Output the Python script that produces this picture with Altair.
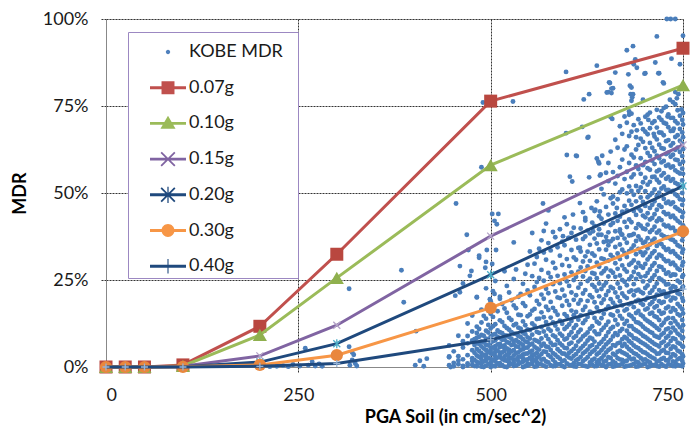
import altair as alt
import pandas as pd

# ---------------- data ----------------
pga_levels = [0, 25, 50, 100, 200, 300, 500, 750]
mdr_007 = [0, 0, 0, 0.6, 11.7, 32.4, 76.4, 91.6]
mdr_010 = [0, 0, 0, 0.3, 9.2, 25.6, 58.0, 81.0]
mdr_015 = [0, 0, 0, 0.2, 3.2, 12.0, 37.6, 63.8]
mdr_020 = [0, 0, 0, 0.1, 1.4, 6.7, 26.5, 52.0]
mdr_030 = [0, 0, 0, 0.05, 0.6, 3.4, 17.0, 39.0]
mdr_040 = [0, 0, 0, 0.0, 0.2, 1.0, 7.8, 22.4]

series_names = ["KOBE MDR", "0.07g", "0.10g", "0.15g", "0.20g", "0.30g", "0.40g"]

# sparse KOBE observations (PGA, MDR %)
kobe_sparse_x = [213, 222, 230, 237, 243, 252, 263, 268, 272, 277, 281, 259, 316, 316, 317, 320, 322, 324, 326, 320,
                 387, 403, 402, 408, 413, 417, 446, 448, 460, 464, 475, 473, 485, 460, 454, 482, 499, 505, 512, 493, 502,
                 384, 598, 529, 490, 488, 455, 638, 628, 621, 598, 619, 626, 599, 612, 638, 645, 640, 603, 628, 642,
                 656, 662, 677, 685, 686, 679, 701, 718, 716, 750, 729, 734, 740, 714, 735, 746, 654, 653, 657, 683,
                 685, 683, 698, 724, 740, 746, 502, 510, 505, 508, 469, 568, 575, 471, 495, 507, 485, 627, 611, 641,
                 606, 643, 616, 631, 636, 642, 607, 623, 664, 659, 594, 601, 616, 633, 640, 651, 668, 670, 655, 659,
                 651, 657, 688, 690, 700, 719, 725, 681, 682, 684, 733, 737, 742, 744, 658, 680, 690, 705, 712, 722,
                 730, 738, 748]
kobe_sparse_y = [0.1, 0.2, 0.4, 0.1, 0.7, 0.3, 0.5, 1.5, 0.3, 0.9, 0.2, 5.4, 5.8, 22.5, 0.5, 2.0, 3.5, 1.0, 0.3, 4.2,
                 18.6, 10.3, 0.5, 1.8, 0.2, 2.4, 3.0, 0.0, 21.5, 24.0, 27.6, 26.2, 31.4, 29.0, 20.5, 20.0, 19.5, 21.0, 20.2, 28.5, 29.6,
                 27.8, 84.8, 76.3, 76.0, 57.4, 47.0, 86.6, 78.4, 76.9, 67.2, 69.0, 65.9, 60.9, 60.6, 59.9, 60.7, 59.0, 54.7, 54.5, 55.0,
                 71.8, 84.6, 91.0, 92.2, 87.0, 84.1, 84.4, 84.4, 95.0, 95.2, 100, 100, 100, 87.5, 88.6, 87.0, 81.8, 79.0, 80.0, 80.3,
                 78.4, 76.5, 76.8, 81.8, 79.0, 79.9, 44.0, 44.0, 42.0, 41.0, 38.0, 47.0, 45.0, 33.6, 33.6, 33.6, 32.0, 66.1, 60.7, 58.5,
                 53.3, 55.3, 47.1, 45.7, 45.2, 44.7, 43.8, 42.8, 45.7, 49.0, 37.6, 37.1, 34.3, 39.0, 38.0, 36.2, 39.5, 38.1, 81.6, 80.1,
                 78.9, 78.7, 88.4, 86.0, 84.3, 84.4, 81.5, 80.8, 78.4, 77.5, 76.8, 76.1, 77.2, 78.4, 71.3, 72.5, 68.0, 71.0, 67.0, 73.5,
                 72.0, 68.5, 74.0]

# dense KOBE observations, grouped by PGA column: (PGA, [MDR %])
kobe_cols = [
    (446, [0.5, 2.8, 6.2]),
    (452, [1.2, 0.2, 4.5]),
    (458, [0.8, 3.1, 9.0, 1.9]),
    (464, [0.3, 2.2, 5.6, 7.4, 0.0]),
    (470, [1.0, 3.4, 0.4, 6.8, 8.9, 12.5]),
    (476, [0.6, 2.5, 4.8, 1.7, 7.6, 10.2, 14.8]),
    (482, [0.2, 1.5, 3.3, 5.2, 6.9, 8.4, 9.8, 11.6, 20.1]),
    (488, [0.9, 2.1, 4.0, 5.9, 7.3, 0.1, 3.0, 9.2, 12.8, 16.5]),
    (494, [0.4, 1.8, 3.6, 4.9, 6.4, 8.1, 2.7, 10.4, 13.9, 22.6, 30.2]),
    (500, [0.7, 1.3, 2.4, 3.9, 5.5, 7.0, 8.8, 0.0, 4.6, 11.1, 15.3, 18.9]),
    (506, [0.2, 1.6, 3.1, 4.3, 6.0, 7.7, 9.5, 2.2, 5.2, 12.3, 24.7]),
    (512, [0.5, 1.1, 2.8, 4.1, 5.7, 6.6, 8.3, 3.5, 10.0, 13.4, 19.6]),
    (518, [0.1, 1.9, 3.0, 4.6, 6.2, 7.9, 9.1, 2.4, 5.4, 11.8, 16.8, 27.5]),
    (524, [0.6, 1.4, 2.6, 3.8, 5.0, 6.9, 8.6, 10.7, 4.4, 14.1, 21.4]),
    (530, [0.3, 2.0, 3.3, 4.8, 6.5, 7.4, 9.6, 1.2, 12.0, 17.7, 25.3, 35.8]),
    (536, [0.8, 1.7, 2.9, 4.2, 5.8, 7.2, 8.9, 11.3, 15.0, 20.2]),
    (542, [0.0, 1.5, 3.6, 5.1, 6.3, 8.0, 9.9, 2.5, 13.1, 18.3, 23.9]),
    (548, [0.4, 2.2, 3.9, 5.6, 7.1, 8.5, 10.8, 1.0, 14.6, 22.0, 29.4]),
    (554, [0.9, 1.8, 3.4, 4.7, 6.7, 9.3, 12.5, 2.7, 16.2, 26.1, 38.5]),
    (560, [0.2, 2.6, 4.0, 5.3, 7.5, 10.1, 1.4, 13.8, 19.0, 24.4, 31.6]),
    (566, [0.7, 2.1, 3.7, 6.1, 8.2, 11.5, 15.7, 20.8, 27.9, 36.4]),
    (572, [0.1, 1.6, 4.3, 5.9, 9.0, 12.9, 17.3, 22.5, 30.8, 41.2]),
    (578, [0.5, 2.9, 4.9, 7.0, 10.4, 14.2, 18.7, 25.8, 33.5]),
    (584, [0.3, 1.3, 3.5, 6.4, 8.7, 11.9, 16.0, 21.7, 28.4, 37.3]),
    (590, [0.8, 2.4, 4.5, 6.8, 9.6, 13.3, 19.8, 24.1, 32.0, 39.6]),
    (596, [0.0, 1.9, 3.8, 5.5, 7.9, 10.9, 15.2, 20.5, 26.6, 35.0, 43.0]),
    (602, [0.6, 2.7, 4.1, 6.6, 9.2, 12.2, 17.8, 23.3, 29.0, 37.1]),
    (608, [0.2, 1.1, 3.2, 5.2, 8.4, 11.2, 14.9, 19.3, 25.0, 31.5, 40.0]),
    (614, [0.9, 2.3, 4.6, 7.3, 10.0, 13.6, 18.2, 22.8, 27.4, 34.2]),
    (620, [0.4, 1.7, 3.9, 6.0, 8.8, 12.6, 16.4, 21.1, 26.0, 30.3, 36.8, 44.5]),
    (626, [0.1, 2.8, 5.0, 7.6, 9.9, 14.4, 19.0, 24.7, 28.9, 33.1, 39.2]),
    (632, [0.7, 2.0, 4.4, 6.3, 8.1, 11.7, 15.5, 20.0, 23.6, 27.0, 32.6, 41.5]),
    (638, [0.3, 1.4, 3.6, 5.7, 9.4, 13.0, 17.1, 21.9, 25.5, 30.0, 35.5, 47.6]),
    (644, [0.5, 2.5, 4.8, 7.2, 10.6, 14.0, 18.4, 22.4, 26.9, 31.2, 38.0, 42.6, 51.2]),
    (650, [0.0, 1.8, 4.2, 6.5, 8.9, 12.1, 16.6, 20.7, 24.2, 28.3, 33.7, 37.4, 46.0, 55.8]),
    (656, [0.8, 2.6, 5.3, 7.8, 11.0, 15.1, 19.5, 23.0, 27.7, 32.2, 36.1, 40.8, 48.5, 61.9]),
    (662, [0.3, 1.2, 3.4, 6.1, 9.7, 13.5, 17.6, 21.4, 25.9, 29.8, 34.5, 39.0, 44.1, 52.7, 65.3]),
    (668, [0.6, 2.2, 4.7, 7.0, 10.3, 14.7, 18.9, 22.7, 26.3, 31.0, 35.2, 38.9, 43.2, 50.2, 57.4, 69.2]),
    (674, [0.1, 1.6, 3.9, 6.6, 8.6, 12.4, 16.2, 20.3, 24.5, 28.1, 32.8, 36.9, 41.7, 46.3, 54.0, 62.5, 72.0]),
    (680, [0.4, 2.9, 5.1, 7.4, 9.5, 11.8, 15.0, 18.0, 21.6, 25.2, 29.4, 33.3, 37.8, 42.4, 47.8, 51.9, 58.6, 66.4, 73.4]),
    (686, [0.9, 2.4, 4.0, 6.2, 8.3, 10.9, 13.8, 17.2, 20.6, 23.8, 27.3, 30.6, 34.9, 38.2, 44.8, 49.5, 55.3, 60.2, 69.5]),
    (692, [0.2, 1.3, 3.2, 5.4, 7.7, 10.1, 12.7, 16.1, 19.3, 22.2, 26.7, 29.9, 33.9, 37.5, 41.0, 45.6, 50.6, 56.9, 63.8, 71.2]),
    (698, [0.7, 2.1, 4.3, 6.8, 9.0, 11.6, 14.5, 17.9, 21.2, 24.6, 28.5, 32.1, 35.6, 39.8, 43.5, 47.4, 53.1, 58.0, 64.7, 68.3]),
    (704, [0.0, 1.7, 3.6, 5.9, 8.1, 10.6, 13.2, 16.8, 19.9, 23.4, 27.0, 30.9, 34.1, 37.0, 40.9, 44.2, 48.8, 52.4, 57.1, 61.5, 66.9, 72.5]),
    (710, [0.5, 2.7, 4.9, 7.1, 9.8, 12.3, 15.6, 18.6, 22.0, 25.6, 29.1, 32.7, 36.3, 39.4, 42.8, 46.6, 50.0, 54.6, 59.3, 63.0, 70.1]),
    (716, [0.3, 1.5, 3.8, 6.3, 8.7, 11.2, 14.3, 17.5, 20.8, 24.0, 27.6, 31.4, 34.8, 38.6, 41.9, 45.2, 49.1, 53.8, 56.2, 60.7, 65.4, 68.8, 73.9]),
    (722, [0.8, 2.3, 4.6, 6.9, 9.3, 12.0, 15.3, 18.4, 21.5, 25.1, 28.7, 31.9, 35.3, 38.0, 42.2, 46.0, 51.3, 55.0, 58.8, 62.9, 67.3, 71.0]),
    (728, [0.1, 1.9, 4.1, 6.0, 8.4, 10.8, 13.7, 16.9, 20.2, 23.7, 26.8, 30.4, 33.6, 37.2, 40.4, 43.9, 47.1, 50.9, 54.1, 57.8, 61.2, 64.9, 69.9, 74.8]),
    (734, [0.6, 2.8, 5.2, 7.5, 9.9, 12.6, 15.9, 19.1, 22.5, 26.2, 29.6, 33.0, 36.7, 39.9, 43.1, 46.8, 50.4, 53.5, 57.3, 60.4, 63.6, 67.8, 71.6]),
    (740, [0.2, 1.4, 3.3, 5.6, 8.0, 10.5, 13.1, 16.3, 19.7, 22.9, 26.5, 29.2, 32.5, 35.9, 39.1, 42.7, 45.9, 49.6, 52.9, 56.5, 59.6, 62.4, 66.1, 70.6, 75.5]),
    (746, [0.4, 2.5, 4.4, 6.7, 9.1, 11.4, 14.8, 17.4, 20.9, 24.3, 27.9, 31.3, 34.6, 38.3, 41.5, 44.9, 48.2, 51.7, 55.6, 58.3, 61.8, 65.0, 68.4, 72.2]),
    (750, [1.0, 3.0, 5.8, 8.5, 12.0, 15.4, 19.0, 23.1, 26.4, 30.1, 33.8, 37.6, 40.7, 44.4, 48.0, 52.0, 55.5, 59.0, 62.6, 66.0, 69.7, 73.0]),
]

kobe_cols2 = [
    (479, [0.3, 2.0, 4.1, 6.3, 8.0]),
    (485, [1.1, 2.9, 4.6, 6.6, 8.7, 10.9]),
    (491, [0.0, 1.6, 3.4, 5.3, 7.1, 9.0, 14.7]),
    (497, [0.8, 2.6, 4.4, 6.2, 7.9, 9.9, 12.1, 17.2]),
    (503, [0.3, 2.0, 3.7, 5.6, 7.4, 9.3, 11.7, 14.4, 21.8]),
    (509, [1.0, 2.7, 4.7, 6.5, 8.6, 10.5, 16.0]),
    (515, [0.5, 2.3, 4.2, 6.0, 7.8, 9.7, 12.9, 18.1]),
    (521, [0.0, 1.8, 3.5, 5.3, 7.2, 9.0, 11.2, 15.6, 23.3]),
    (527, [0.9, 2.5, 4.5, 6.3, 8.1, 10.0, 13.5, 19.2]),
    (533, [0.4, 2.2, 4.0, 5.9, 7.7, 9.5, 12.4, 16.9, 28.0]),
    (539, [1.2, 3.0, 4.9, 6.8, 8.6, 11.0, 14.9, 21.0]),
    (545, [0.2, 2.0, 3.8, 5.5, 7.3, 9.4, 12.0, 17.5, 26.8]),
    (551, [0.7, 2.6, 4.4, 6.4, 8.2, 10.6, 15.1, 20.6, 33.2]),
    (557, [0.1, 1.9, 3.6, 5.8, 7.8, 11.9, 16.7, 23.0, 29.7]),
    (563, [0.9, 3.0, 5.0, 7.1, 9.8, 13.9, 18.0, 25.6, 34.0]),
    (569, [0.4, 2.3, 4.5, 6.7, 10.2, 14.3, 19.6, 24.8, 32.9, 39.1]),
    (575, [1.3, 3.4, 5.7, 8.0, 11.0, 16.4, 21.2, 27.0, 35.6]),
    (581, [0.2, 2.1, 4.0, 6.3, 9.1, 12.8, 17.0, 23.8, 30.0, 38.8]),
    (587, [0.7, 2.9, 5.1, 7.7, 10.8, 15.0, 20.0, 26.2, 34.4]),
    (593, [0.3, 1.7, 3.9, 6.2, 9.0, 12.4, 17.6, 22.2, 29.3, 36.0]),
    (599, [1.0, 3.2, 5.4, 8.2, 11.5, 14.6, 19.0, 24.6, 31.0, 41.0]),
    (605, [0.5, 2.4, 4.6, 7.0, 10.0, 13.2, 16.2, 21.4, 27.2, 33.6, 38.5]),
    (611, [0.1, 1.9, 3.7, 6.1, 8.9, 12.0, 15.8, 20.6, 25.9, 30.8, 36.6]),
    (617, [0.8, 2.9, 5.3, 7.9, 10.7, 14.8, 19.2, 23.9, 28.6, 33.2, 39.8]),
    (623, [0.3, 2.2, 4.4, 6.7, 9.3, 13.4, 17.3, 22.1, 27.6, 31.8, 37.5, 42.1]),
    (629, [0.6, 1.3, 3.7, 5.9, 8.4, 11.0, 15.9, 20.6, 25.4, 30.5, 35.1, 38.4]),
    (635, [0.2, 2.4, 4.8, 7.3, 10.2, 14.1, 18.6, 23.0, 26.8, 32.0, 36.9, 40.5, 44.8]),
    (641, [0.9, 2.0, 4.1, 6.6, 9.5, 12.5, 16.0, 20.3, 24.0, 28.8, 33.8, 39.6, 43.3]),
    (647, [0.4, 1.5, 3.3, 5.6, 8.0, 11.3, 15.3, 19.4, 23.4, 27.5, 31.0, 35.9, 41.2, 49.6]),
    (653, [0.7, 2.8, 4.9, 7.1, 10.0, 13.0, 17.4, 21.8, 26.0, 30.6, 35.0, 38.7, 43.8, 53.4, 58.6]),
    (659, [0.1, 1.6, 3.8, 6.3, 8.8, 11.5, 14.8, 18.5, 22.6, 27.1, 31.5, 36.8, 41.4, 47.0, 56.0]),
    (665, [0.5, 2.5, 4.4, 6.8, 9.2, 12.2, 16.0, 20.1, 24.0, 28.2, 32.6, 37.1, 42.0, 48.2, 54.9, 63.0]),
    (671, [0.9, 2.0, 4.2, 6.0, 8.0, 10.9, 13.9, 17.7, 21.1, 25.0, 29.2, 33.7, 38.0, 44.6, 51.0, 59.6, 67.0]),
    (677, [0.3, 1.8, 3.5, 5.8, 8.2, 10.4, 13.2, 16.6, 19.8, 23.5, 27.4, 31.6, 35.7, 40.2, 45.0, 49.9, 56.1, 63.4, 70.2]),
    (683, [0.6, 2.2, 4.6, 6.9, 9.1, 11.7, 14.6, 18.3, 22.0, 26.0, 29.9, 34.0, 37.9, 41.6, 46.6, 50.6, 54.5, 61.0, 67.6, 72.8]),
    (689, [0.1, 1.5, 3.7, 5.7, 8.1, 10.5, 12.9, 15.5, 18.9, 21.9, 25.3, 28.6, 32.4, 36.2, 39.9, 43.7, 47.6, 52.0, 57.9, 62.5, 66.0]),
    (695, [0.5, 2.6, 4.8, 7.2, 9.6, 12.3, 15.0, 18.4, 21.6, 25.9, 29.0, 33.0, 36.6, 40.6, 44.9, 48.7, 51.6, 55.5, 60.0, 65.6, 70.0]),
    (701, [0.9, 2.2, 4.1, 6.4, 8.6, 11.0, 13.7, 16.5, 19.3, 22.7, 26.1, 29.6, 32.9, 36.0, 39.6, 43.0, 46.3, 50.5, 54.4, 58.9, 62.9, 67.6, 71.9]),
    (707, [0.2, 1.3, 3.1, 5.4, 7.6, 10.1, 12.8, 15.3, 18.0, 21.3, 24.8, 28.0, 31.7, 35.2, 38.8, 42.4, 45.7, 49.4, 53.2, 56.7, 60.6, 64.4, 68.6, 73.1]),
    (713, [0.6, 2.4, 4.5, 6.6, 9.0, 11.8, 14.6, 17.1, 19.6, 23.0, 26.4, 29.8, 33.3, 36.9, 40.3, 43.9, 47.6, 51.0, 54.7, 58.3, 62.0, 66.2, 70.6]),
    (719, [0.1, 1.8, 3.9, 5.9, 8.4, 10.7, 13.5, 16.1, 18.9, 22.1, 25.5, 28.9, 32.3, 35.8, 39.2, 42.7, 46.5, 50.1, 53.0, 56.6, 60.0, 63.9, 67.4, 71.7]),
    (725, [0.4, 2.6, 4.9, 7.3, 9.8, 12.7, 15.6, 18.7, 21.7, 24.6, 27.9, 31.0, 34.4, 37.6, 40.9, 44.5, 48.3, 51.9, 55.7, 59.2, 62.7, 66.6, 70.2, 74.4]),
    (731, [0.8, 2.0, 4.0, 6.5, 8.9, 11.1, 14.1, 17.3, 20.5, 23.8, 27.2, 30.5, 33.9, 37.3, 40.6, 44.0, 47.5, 50.9, 54.6, 58.1, 61.6, 65.2, 68.9, 72.6]),
    (737, [0.3, 1.6, 3.7, 5.9, 8.3, 11.3, 14.0, 16.9, 19.9, 23.2, 26.6, 30.0, 33.3, 36.5, 40.0, 43.5, 47.3, 50.6, 54.0, 57.6, 61.0, 64.3, 67.9, 71.6]),
    (743, [0.6, 2.2, 4.7, 7.0, 9.6, 12.2, 15.2, 18.1, 21.2, 24.8, 28.3, 31.8, 35.0, 38.5, 42.0, 45.4, 49.1, 52.5, 56.0, 59.4, 63.0, 66.6, 70.0, 73.8]),
    (749, [0.2, 1.8, 3.6, 6.0, 8.2, 10.4, 13.5, 16.6, 19.8, 22.7, 25.9, 29.2, 32.9, 36.4, 39.6, 43.1, 46.6, 50.0, 53.6, 57.0, 60.6, 64.2, 67.4, 71.0]),
]

# ---------------- styles ----------------
FONT = "Lato"
TXT = "#1a1a1a"
X_PATH = "M-1,-1L1,1M1,-1L-1,1"
AST_PATH = "M-1,-1L1,1M1,-1L-1,1M0,-1.3L0,1.3"
PLUS_PATH = "M-1,0L1,0M0,-1L0,1"

curves = [mdr_007, mdr_010, mdr_015, mdr_020, mdr_030, mdr_040]
line_colors = ["#C0504D", "#9BBB59", "#8064A2", "#1F497D", "#F79646", "#1F497D"]
marker_shapes = ["square", "triangle-up", X_PATH, AST_PATH, "circle", PLUS_PATH]
marker_filled = [True, True, False, False, True, False]
marker_colors = ["#B9473F", "#8FB04E", "#B3A2C7", "#4BACC6", "#E9873D", "#95B3D7"]
marker_sizes = [169, 200, 49, 49, 150, 49]

# legend symbols (line segment + marker), coordinates scaled by sqrt(size)/2
LINE = "M-1,-0.08H1V0.08H-1Z"
XSHAPE = "M-0.345,-0.415L0.415,0.345L0.345,0.415L-0.415,-0.345ZM0.345,-0.415L0.415,-0.345L-0.345,0.415L-0.415,0.345Z"
legend_paths = [
    "M0.12,0A0.12,0.12,0,1,1,-0.12,0A0.12,0.12,0,1,1,0.12,0Z",
    LINE + "M-0.36,-0.36H0.36V0.36H-0.36Z",
    LINE + "M0,-0.42L0.42,0.3L-0.42,0.3Z",
    LINE + XSHAPE,
    LINE + XSHAPE + "M-0.035,-0.45H0.035V0.45H-0.035Z",
    LINE + "M0.36,0A0.36,0.36,0,1,1,-0.36,0A0.36,0.36,0,1,1,0.36,0Z",
    LINE + "M-0.03,-0.4H0.03V0.4H-0.03Z",
]
legend_colors = ["#4F81BD", "#C0504D", "#9BBB59", "#8064A2", "#1F497D", "#F79646", "#1F497D"]

# ---------------- build tables ----------------
kx = list(kobe_sparse_x)
ky = list(kobe_sparse_y)
for cols in (kobe_cols, kobe_cols2):
    for cx, ys in cols:
        for v in ys:
            kx.append(cx)
            ky.append(v)
kobe_df = pd.DataFrame({"pga": kx, "mdr": ky})

grid_dash = [2, 1]
x_axis = alt.Axis(
    values=[0, 250, 500, 750], title="PGA Soil (in cm/sec^2)",
    grid=True, gridColor="#333333", gridDash=grid_dash, gridWidth=1,
    gridOpacity={"condition": {"test": "datum.value === 0", "value": 0}, "value": 1},
    domainColor="#888888", domainWidth=1,
    tickColor="#333333", tickDash=grid_dash, tickSize=6,
    labelFont=FONT, labelFontSize=18, labelColor=TXT, labelPadding=13,
    titleFont=FONT, titleFontSize=18, titleFontWeight="bold", titleColor="#000000",
    titleX=349, titleY=55, titleAlign="center", titleBaseline="alphabetic", titleAnchor="start",
)
y_axis = alt.Axis(
    values=[0, 25, 50, 75, 100], labelExpr="datum.value + '%'", title="MDR",
    grid=True, gridColor="#333333", gridDash=grid_dash, gridWidth=1,
    gridOpacity={"condition": {"test": "datum.value === 0", "value": 0}, "value": 1},
    domainColor="#888888", domainWidth=1,
    tickColor="#333333", tickDash=grid_dash, tickSize=6,
    labelFont=FONT, labelFontSize=18, labelColor=TXT, labelPadding=12,
    titleFont=FONT, titleFontSize=18, titleFontWeight="bold", titleColor="#000000",
    titleX=-86, titleY=174, titleAngle=-90, titleAlign="center", titleBaseline="middle",
    titleAnchor="start",
)
x_scale = alt.Scale(domain=[0, 750], nice=False, zero=False)
y_scale = alt.Scale(domain=[0, 100], nice=False)
x_enc = alt.X("pga:Q", scale=x_scale, axis=x_axis)
y_enc = alt.Y("mdr:Q", scale=y_scale, axis=y_axis)

layers = [
    alt.Chart(kobe_df).mark_circle(size=24, color="#4A7EBB", opacity=1).encode(x=x_enc, y=y_enc)
]

for i, name in enumerate(series_names[1:]):
    df = pd.DataFrame({"pga": pga_levels, "mdr": curves[i]})
    base = alt.Chart(df)
    layers.append(base.mark_line(color=line_colors[i], strokeWidth=3).encode(x=x_enc, y=y_enc))
    if marker_filled[i]:
        pt = base.mark_point(shape=marker_shapes[i], filled=True, color=marker_colors[i],
                             size=marker_sizes[i], opacity=1)
    else:
        pt = base.mark_point(shape=marker_shapes[i], filled=False, color=marker_colors[i],
                             size=marker_sizes[i], opacity=1, strokeWidth=1.3)
    layers.append(pt.encode(x=x_enc, y=y_enc))

legend_df = pd.DataFrame({"series": series_names})
PADCHAR = "\u2800"
legend = alt.Legend(
    orient="none", legendX=22, legendY=13, title=None,
    fillColor="white", strokeColor="#9C88C2", padding=2,
    labelFont=FONT, labelFontSize=18, labelColor=TXT, labelOffset=3,
    labelExpr="datum.label + '" + PADCHAR + "'",
    symbolSize=1296, symbolStrokeWidth=0, rowPadding=8.7, symbolOffset=20,
)
# legend-only layer: its point sits outside the y domain and is clipped away
layers.append(
    alt.Chart(legend_df).mark_point(filled=True, size=1296, opacity=1, clip=True).encode(
        y=alt.YDatum(-50, scale=y_scale, axis=y_axis),
        color=alt.Color("series:N", scale=alt.Scale(domain=series_names, range=legend_colors), legend=legend),
        shape=alt.Shape("series:N", scale=alt.Scale(domain=series_names, range=legend_paths), legend=legend),
    )
)

chart = alt.layer(*layers).properties(
    width=577, height=348,
    autosize=alt.AutoSizeParams(type="none"),
    padding={"left": 98, "top": 11, "right": 8, "bottom": 60},
).configure_view(stroke=None).configure(background="white")

chart.save("out.html", embed_options={"renderer": "svg", "actions": False})
